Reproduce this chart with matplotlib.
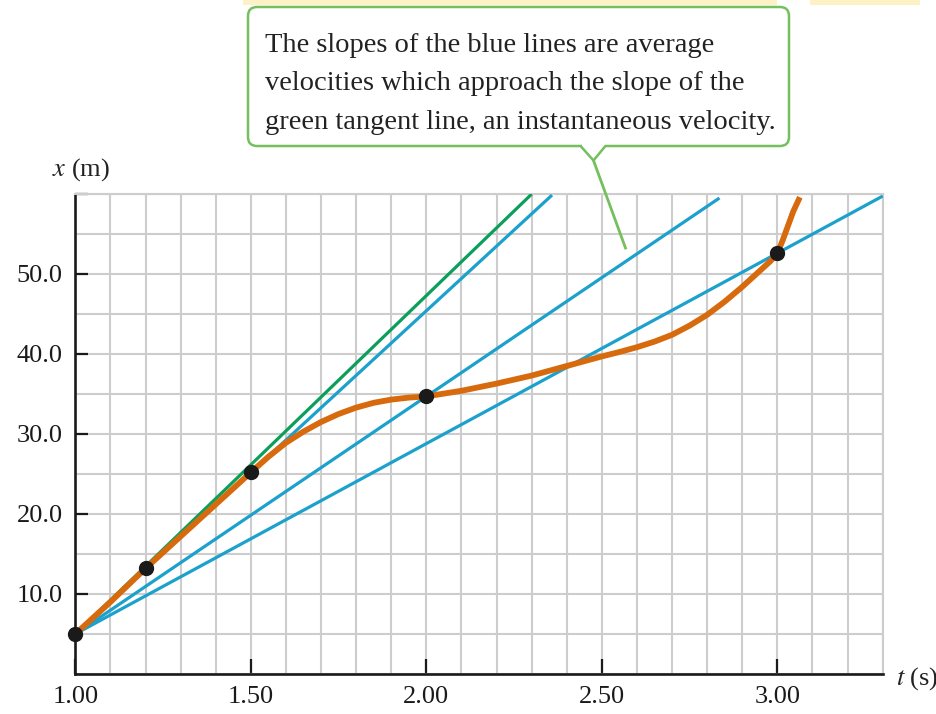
import matplotlib.pyplot as plt
from matplotlib.patches import FancyBboxPatch, Rectangle

plt.rcParams['font.family'] = ['Liberation Serif', 'DejaVu Serif']
plt.rcParams['mathtext.fontset'] = 'stix'

# position x (m) against time t (s)
t_curve = [1.00, 1.10, 1.20, 1.30, 1.40, 1.50, 1.55, 1.60, 1.65, 1.70, 1.75,
           1.80, 1.85, 1.90, 1.95, 2.00, 2.10, 2.20, 2.30, 2.40, 2.45, 2.50,
           2.55, 2.60, 2.65, 2.70, 2.75, 2.80, 2.85, 2.90, 2.95, 2.98, 3.00,
           3.015, 3.03, 3.045, 3.064]
x_curve = [5.0, 9.0, 13.2, 17.2, 21.2, 25.2, 27.15, 28.9, 30.3, 31.5, 32.5,
           33.3, 33.9, 34.3, 34.55, 34.7, 35.4, 36.3, 37.3, 38.5, 39.1, 39.7,
           40.25, 40.85, 41.55, 42.4, 43.55, 44.9, 46.55, 48.4, 50.4, 51.6,
           52.6, 54.2, 56.0, 57.8, 59.6]

t_dots = [1.00, 1.20, 1.50, 2.00, 3.00]
x_dots = [5.0, 13.2, 25.2, 34.7, 52.6]

# blue secants run from the first dot through these dots, out to these times
secant_dots = [2, 3, 4]
secant_t_end = [2.358, 2.835, 3.30]

# green tangent at the first dot
tangent_slope = 42.3
tangent_t_end = 2.30

x_ticks = [1.00, 1.50, 2.00, 2.50, 3.00]
y_ticks = [10.0, 20.0, 30.0, 40.0, 50.0, 60.0]

note = ['The slopes of the blue lines are average',
        'velocities which approach the slope of the',
        'green tangent line, an instantaneous velocity.']

orange = '#d86a0e'
blue = '#1ca1cd'
green = '#0c9f5c'
note_green = '#74bf5e'
grid_grey = '#cdcdcd'

fig = plt.figure(figsize=(9.37, 7.14), dpi=100)
ax = fig.add_axes([75.3 / 937, 40 / 714, 807.4 / 937, 480 / 714])

t0, x0 = t_dots[0], x_dots[0]
for i, te in zip(secant_dots, secant_t_end):
    slope = (x_dots[i] - x0) / (t_dots[i] - t0)
    ax.plot([t0, te], [x0, x0 + slope * (te - t0)], color=blue, lw=2.3,
            solid_capstyle='butt', zorder=3)
ax.plot([t0, tangent_t_end], [x0, x0 + tangent_slope * (tangent_t_end - t0)],
        color=green, lw=2.3, solid_capstyle='butt', zorder=3)
ax.plot(t_curve, x_curve, color=orange, lw=4.2, solid_joinstyle='round',
        solid_capstyle='butt', zorder=4)
ax.plot(t_dots, x_dots, 'o', color='#1a1a1a', ms=10, zorder=5, clip_on=False)

ax.set_xlim(1.0, 3.3)
ax.set_ylim(0, 60)
ax.set_xticks([1.0 + 0.1 * k for k in range(24)], minor=True)
ax.set_yticks([5.0 * k for k in range(13)], minor=True)
ax.set_xticks(x_ticks)
ax.set_yticks(y_ticks)
ax.set_xticklabels(['%.2f' % v for v in x_ticks])
ax.set_yticklabels(['%.1f' % v for v in y_ticks[:-1]] + [''])
ax.grid(which='both', color=grid_grey, lw=1.5, zorder=0)
ax.set_axisbelow(True)
ax.tick_params(which='minor', length=0)
ax.tick_params(which='major', direction='in', width=1.6, colors='#1a1a1a',
               labelsize=19)
ax.tick_params(axis='x', which='major', length=11, pad=8.5)
ax.tick_params(axis='y', which='major', length=9, pad=9)
for side in ['left', 'bottom']:
    ax.spines[side].set_linewidth(1.9)
    ax.spines[side].set_color('#1a1a1a')
for side in ['top', 'right']:
    ax.spines[side].set_linewidth(1.5)
    ax.spines[side].set_color(grid_grey)

# overlay in pixel units for the callout and axis names
ov = fig.add_axes([0, 0, 1, 1], zorder=5)
ov.set_xlim(0, 937)
ov.set_ylim(714, 0)
ov.axis('off')
ov.patch.set_alpha(0)

ov.add_patch(Rectangle((243, 0), 534, 5, color='#fdf1c6', lw=0))
ov.add_patch(Rectangle((810, 0), 110, 5, color='#fdf1c6', lw=0))

ov.add_patch(FancyBboxPatch((248, 7), 541, 139,
                            boxstyle='round,pad=0,rounding_size=9',
                            fc='white', ec=note_green, lw=1.8))
ov.plot([582, 605], [146, 146], color='white', lw=3, solid_capstyle='butt')
ov.plot([581, 593.5, 605], [146.5, 160.5, 146.5], color=note_green, lw=1.8)
ov.plot([593.5, 625.5], [160.5, 248], color=note_green, lw=2.0)

for k, line in enumerate(note):
    ov.text(265, 52 + 38.5 * k, line, fontsize=20.5, color='#222222',
            ha='left', va='baseline')

ov.text(52, 176, '$x$ (m)', fontsize=19, color='#222222', va='baseline')
ov.text(896, 685, '$t$ (s)', fontsize=19, color='#222222', va='baseline')

fig.savefig('out.png', dpi=100)
